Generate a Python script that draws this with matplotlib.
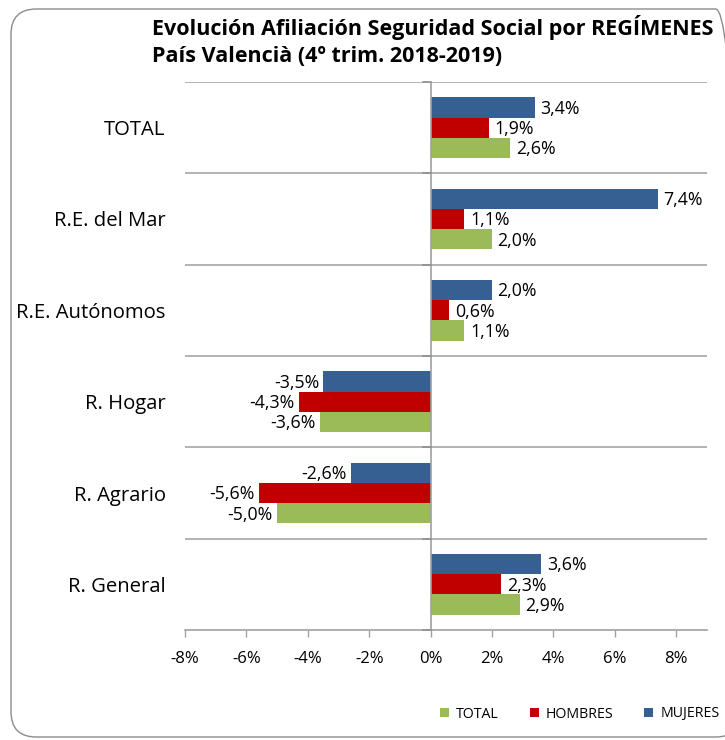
import matplotlib
matplotlib.use("Agg")
import matplotlib.pyplot as plt
from matplotlib.patches import Patch, FancyBboxPatch
import numpy as np

plt.rcParams['font.family'] = ['Open Sans', 'DejaVu Sans']

categories = ["R. General", "R. Agrario", "R. Hogar", "R.E. Autónomos", "R.E. del Mar", "TOTAL"]
series_names = ["TOTAL", "HOMBRES", "MUJERES"]
total = [2.9, -5.0, -3.6, 1.1, 2.0, 2.6]
hombres = [2.3, -5.6, -4.3, 0.6, 1.1, 1.9]
mujeres = [3.6, -2.6, -3.5, 2.0, 7.4, 3.4]
xticks = [-8, -6, -4, -2, 0, 2, 4, 6, 8]
colors = ["#9BBB59", "#C00000", "#376092"]

W, H = 725, 740
fig = plt.figure(figsize=(W / 100, H / 100), dpi=100)
fig.patch.set_facecolor("white")

# rounded border
border = FancyBboxPatch((11 / W, 3 / H), 730 / W, 728 / H,
                        boxstyle="round,pad=0,rounding_size=0.035",
                        transform=fig.transFigure, facecolor="none",
                        edgecolor="#8c8c8c", linewidth=1.0, mutation_aspect=W / H)
fig.patches.append(border)

left, right, top, bottom = 185, 707, 82, 630
ax = fig.add_axes([left / W, 1 - bottom / H, (right - left) / W, (bottom - top) / H])

y = np.arange(len(categories))
bh = 0.222
data = [total, hombres, mujeres]
offsets = [-bh, 0, bh]
for vals, off, col, name in zip(data, offsets, colors, series_names):
    ax.barh(y + off, vals, height=bh, color=col, label=name, zorder=3)
    for yy, v in zip(y + off, vals):
        txt = f"{v:.1f}".replace(".", ",") + "%"
        if v >= 0:
            ax.annotate(txt, (v, yy), xytext=(4, -1), textcoords="offset points",
                        ha="left", va="center", fontsize=12.8, color="black", zorder=4)
        else:
            ax.annotate(txt, (v, yy), xytext=(-3, -1), textcoords="offset points",
                        ha="right", va="center", fontsize=12.8, color="black", zorder=4)

ax.set_xlim(-8, 9)
ax.set_ylim(-0.5, 5.5)
ax.set_xticks(xticks)
ax.set_xticklabels([f"{t}%" for t in xticks], fontsize=12)
ax.set_yticks(y)
ax.set_yticklabels(categories, fontsize=14.6)
ax.tick_params(axis="y", length=0, pad=14)
ax.tick_params(axis="x", length=5, width=1.0, color="#a0a0a0", pad=10, direction="out")

for s in ["left", "right", "top"]:
    ax.spines[s].set_visible(False)
ax.spines["bottom"].set_color("#a0a0a0")
ax.spines["bottom"].set_linewidth(1.2)

for b in np.arange(0.5, 5.6, 1.0):
    ax.axhline(b, color="#a6a6a6", linewidth=1.2, zorder=1)
ax.axvline(0, color="#a0a0a0", linewidth=1.2, zorder=5)
for b in np.arange(-0.5, 5.6, 1.0):
    ax.plot([-0.25, 0], [b, b], color="#909090", linewidth=1.2, zorder=5, clip_on=False)

fig.text(152 / W, 1 - 15 / H,
         "Evolución Afiliación Seguridad Social por REGÍMENES\nPaís Valencià (4º trim. 2018-2019)",
         ha="left", va="top", fontsize=15.5, fontweight="bold", linespacing=1.35)

handles = [Patch(facecolor=c, edgecolor="none") for c in colors]
fig.legend(handles, series_names, loc="center left",
           bbox_to_anchor=(440 / W, 1 - 714 / H), ncol=3, frameon=False,
           fontsize=10.2, handlelength=0.65, handleheight=0.65, handletextpad=0.5,
           columnspacing=2.15, borderaxespad=0, borderpad=0)

fig.savefig("out.png", dpi=100)
